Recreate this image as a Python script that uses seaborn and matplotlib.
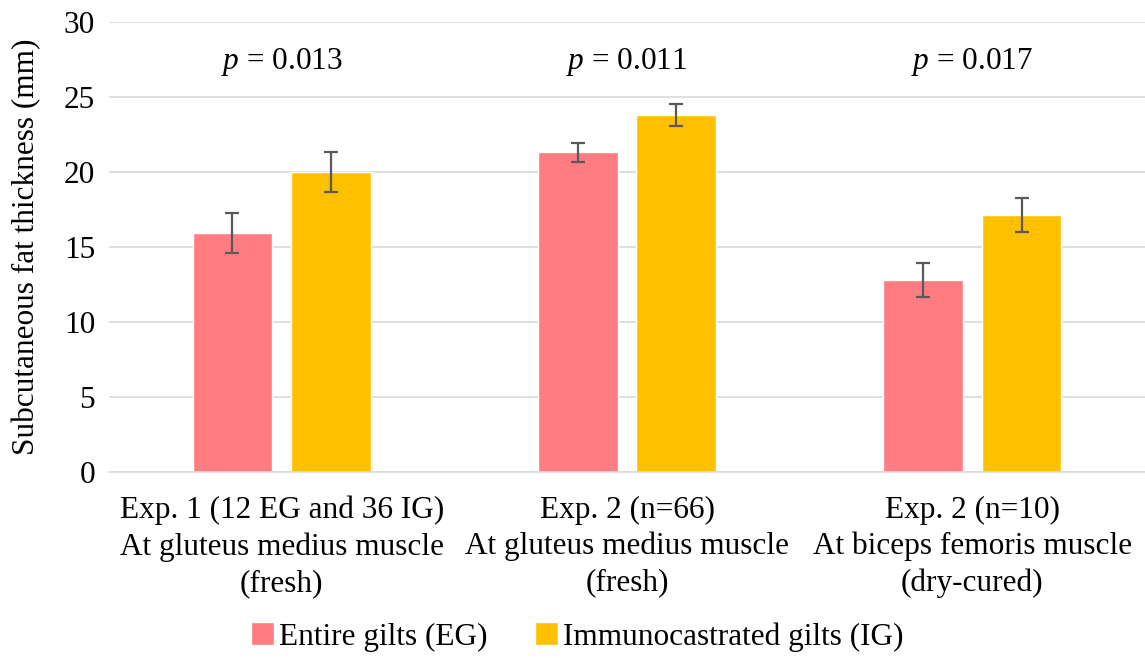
import matplotlib
matplotlib.use("Agg")
import matplotlib.pyplot as plt
import seaborn as sns
import pandas as pd

# Subcutaneous fat thickness by experiment and sex group (mean ± SE, mm)
categories = [
    "Exp. 1 (12 EG and 36 IG)\nAt gluteus medius muscle\n(fresh)",
    "Exp. 2 (n=66)\nAt gluteus medius muscle\n(fresh)",
    "Exp. 2 (n=10)\nAt biceps femoris muscle\n(dry-cured)",
]
groups = ["Entire gilts (EG)", "Immunocastrated gilts (IG)"]
eg_mean = [15.9, 21.3, 12.8]
ig_mean = [20.0, 23.8, 17.1]
eg_se = [1.33, 0.62, 1.15]
ig_se = [1.33, 0.72, 1.13]
p_values = ["0.013", "0.011", "0.017"]
y_ticks = [0, 5, 10, 15, 20, 25, 30]

colors = {"Entire gilts (EG)": "#FF7C80", "Immunocastrated gilts (IG)": "#FFC000"}

df = pd.DataFrame({
    "category": categories * 2,
    "group": [groups[0]] * 3 + [groups[1]] * 3,
    "mean": eg_mean + ig_mean,
    "se": eg_se + ig_se,
})

sns.set_theme(style="white")
plt.rcParams["font.family"] = ["Liberation Serif", "DejaVu Serif"]
plt.rcParams["mathtext.fontset"] = "custom"
plt.rcParams["mathtext.rm"] = "Liberation Serif"
plt.rcParams["mathtext.it"] = "Liberation Serif:italic"
plt.rcParams["text.color"] = "black"

FS = 22.5

fig = plt.figure(figsize=(11.45, 6.58), dpi=100)
ax = fig.add_axes([0.0952, 0.2827, 0.9048, 0.684])

sns.barplot(data=df, x="category", y="mean", hue="group", palette=colors,
            order=categories, hue_order=groups, errorbar=None,
            width=0.57, gap=0.193, saturation=1, ax=ax, legend=True)

# Error bars placed at the centres of the drawn bars
for container, grp in zip(ax.containers, groups):
    sub = df[df["group"] == grp].set_index("category").loc[categories]
    xs = [b.get_x() + b.get_width() / 2 for b in container]
    ax.errorbar(xs, sub["mean"], yerr=sub["se"], fmt="none",
                ecolor="#595959", elinewidth=1.6, capsize=5, capthick=1.6, zorder=5)

# p-value annotations above each pair
for i, p in enumerate(p_values):
    ax.text(i, 27.3, r"$p$" + " = " + p, ha="center", va="center",
            fontsize=FS, color="black")

ax.set_ylim(0, 30)
ax.set_xlim(-0.5, 2.5)
ax.set_yticks(y_ticks)
ax.set_yticklabels([str(t) for t in y_ticks])
ax.yaxis.grid(True, color="#D9D9D9", linewidth=1.2)
ax.set_axisbelow(True)
for side in ["left", "right", "top"]:
    ax.spines[side].set_visible(False)
ax.spines["bottom"].set_color("#D9D9D9")
ax.spines["bottom"].set_linewidth(1.2)
ax.tick_params(axis="both", length=0, labelsize=FS, colors="black")
ax.tick_params(axis="y", pad=10)
ax.tick_params(axis="x", pad=17)
for lbl in ax.get_xticklabels():
    lbl.set_linespacing(1.32)
ax.set_xlabel("")
ax.set_ylabel("Subcutaneous fat thickness (mm)", fontsize=FS, color="black", labelpad=16)

handles, labels = ax.get_legend_handles_labels()
ax.legend_.remove()
fig.legend(handles, labels, loc="center", bbox_to_anchor=(0.504, 0.032), ncol=2,
           frameon=False, fontsize=FS, handlelength=0.75, handleheight=0.75,
           handletextpad=0.15, columnspacing=1.5, labelcolor="black")

fig.savefig("out.png", dpi=100)
